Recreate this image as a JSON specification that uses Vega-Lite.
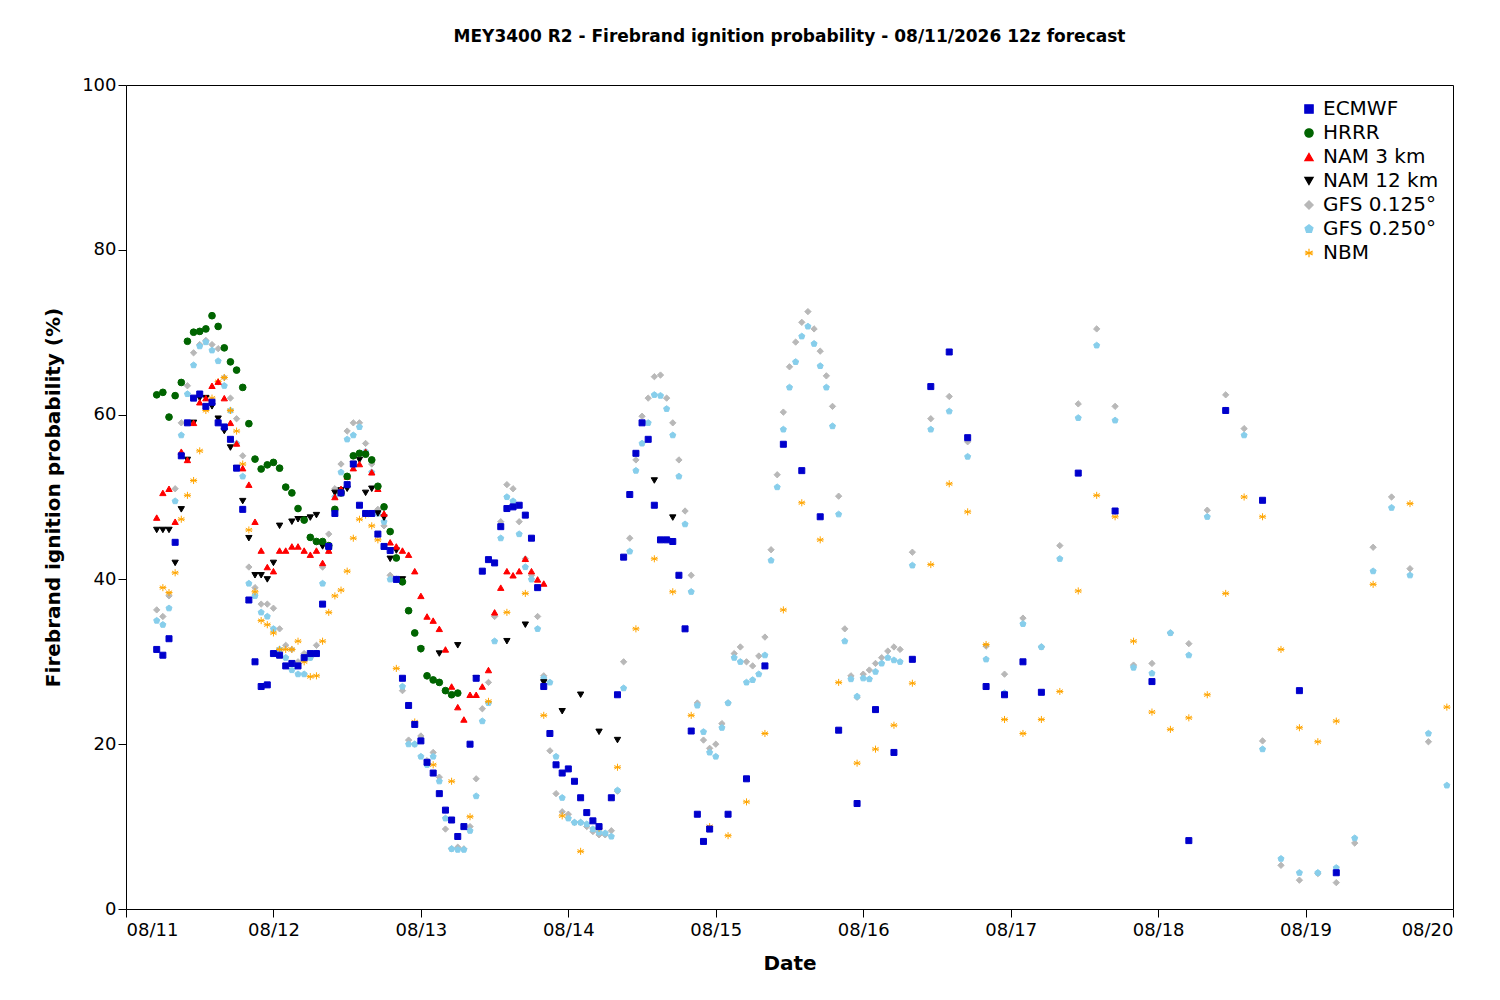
{
"$schema":"https://vega.github.io/schema/vega-lite/v6.json",
"autosize":{"type":"none"},
"width":1327,"height":824,
"padding":{"left":126,"top":85,"right":47,"bottom":91},
"background":"white",
"title":{"text":"MEY3400 R2 - Firebrand ignition probability - 08/11/2026 12z forecast","fontSize":17,"fontWeight":"bold","font":"DejaVu Sans","offset":30},
"datasets":{
"E":[[5,31.5],[6,30.8],[7,32.8],[8,44.5],[9,55],[10,59],[11,62],[12,62.5],[13,61],[14,61.5],[15,59],[16,58.5],[17,57],[18,53.5],[19,48.5],[20,37.5],[21,30],[22,27],[23,27.2],[24,31],[25,30.8],[26,29.5],[27,29.8],[28,29.5],[29,30.5],[30,31],[31,31],[32,37],[33,44],[34,48],[35,50.5],[36,51.5],[37,54],[38,49],[39,48],[40,48],[41,45.5],[42,44],[43,43.5],[44,40],[45,28],[46,24.7],[47,22.4],[48,20.4],[49,17.8],[50,16.5],[51,14],[52,12],[53,10.8],[54,8.8],[55,10],[56,20],[57,28],[58,41],[59,42.4],[60,42],[61,46.4],[62,48.6],[63,48.8],[64,49],[65,47.8],[66,45],[67,39],[68,27],[69,21.3],[70,17.5],[71,16.5],[72,17],[73,15.5],[74,13.5],[75,11.7],[76,10.7],[77,10],[79,13.5],[80,26],[81,42.7],[82,50.3],[83,55.3],[84,59],[85,57],[86,49],[87,44.8],[88,44.8],[89,44.6],[90,40.5],[91,34],[92,21.6],[93,11.5],[94,8.2],[95,9.7],[98,11.5],[101,15.8],[104,29.5],[107,56.4],[110,53.2],[113,47.6],[116,21.7],[119,12.8],[122,24.2],[125,19],[128,30.3],[131,63.4],[134,67.6],[137,57.2],[140,27],[143,26],[146,30],[149,26.3],[155,52.9],[161,48.3],[167,27.6],[173,8.3],[179,60.5],[185,49.6],[191,26.5],[197,4.4]],
"H":[[5,62.4],[6,62.7],[7,59.7],[8,62.3],[9,63.9],[10,68.9],[11,70],[12,70.1],[13,70.4],[14,72],[15,70.7],[16,68.1],[17,66.4],[18,65.4],[19,63.3],[20,58.9],[21,54.6],[22,53.4],[23,53.9],[24,54.2],[25,53.5],[26,51.2],[27,50.5],[28,48.6],[29,47.2],[30,45.1],[31,44.6],[32,44.6],[33,44.1],[34,48.5],[35,50.5],[36,52.5],[37,55],[38,55.3],[39,55.2],[40,54.5],[41,51.3],[42,48.8],[43,45.8],[44,42.6],[45,39.7],[46,36.2],[47,33.5],[48,31.6],[49,28.3],[50,27.8],[51,27.5],[52,26.5],[53,26],[54,26.2]],
"N3":[[5,47.5],[6,50.5],[7,51],[8,47],[9,55.5],[10,54.5],[11,59],[12,61.5],[13,62],[14,63.5],[15,64],[16,62],[17,59],[18,56.5],[19,53.5],[20,51.5],[21,47],[22,43.5],[23,41.5],[24,41],[25,43.5],[26,43.5],[27,44],[28,44],[29,43.5],[30,43],[31,43.5],[32,42],[33,43.5],[34,50],[35,51],[36,52.5],[37,53.5],[38,54],[39,55.5],[40,53],[41,51],[42,48],[43,44.5],[44,44],[45,43.5],[46,43],[47,41],[48,38],[49,35.5],[50,35],[51,34],[52,31.5],[53,27],[54,24.5],[55,23],[56,26],[57,26],[58,27],[59,29],[60,36],[61,39],[62,41],[63,40.5],[64,41],[65,42.5],[66,41],[67,40],[68,39.5]],
"N12":[[5,46],[6,46],[7,46],[8,42],[9,48.5],[10,54.5],[11,59],[12,62],[13,62],[14,61],[15,59.5],[16,58],[17,56],[18,53.5],[19,49.5],[20,45],[21,40.5],[22,40.5],[23,40],[24,42],[25,46.5],[27,47],[28,47.3],[29,47.3],[30,47.5],[31,47.8],[32,44],[33,43.5],[34,50.5],[35,50.8],[36,51],[37,54],[38,54.5],[39,50.5],[40,51],[41,48],[42,47.5],[43,42.5],[44,43.5],[45,40],[48,31.5],[51,31],[54,32],[57,28],[62,32.5],[65,34.5],[68,27.5],[71,24],[74,26],[77,21.5],[80,20.5],[86,52],[89,47.5]],
"G1":[[5,36.3],[6,35.5],[7,38],[8,51],[9,59],[10,63.5],[11,67.5],[12,68.5],[13,69],[14,68.5],[15,68],[16,64.5],[17,62],[18,59.5],[19,55],[20,41.5],[21,39],[22,37],[23,37],[24,36.5],[25,34],[26,32],[27,31.5],[28,30],[29,31],[30,30.5],[31,32],[32,41.5],[33,45.5],[34,51],[35,54],[36,58],[37,59],[38,59],[39,56.5],[40,54],[41,48.5],[42,46.5],[43,40.5],[44,40],[45,26.5],[46,20.5],[47,20],[48,21],[49,18],[50,19],[51,16],[52,9.7],[53,7.3],[54,7.5],[55,7.3],[56,10],[57,15.8],[58,24.3],[59,27.5],[60,35.5],[61,47],[62,51.5],[63,51],[64,47],[65,42.5],[66,40.5],[67,35.5],[68,28.3],[69,19.2],[70,14],[71,11.8],[72,11.5],[73,10.5],[74,10.5],[75,10],[76,9.4],[77,9],[78,9],[79,9.5],[80,14.3],[81,30],[82,45],[83,54.5],[84,59.8],[85,62],[86,64.6],[87,64.8],[88,62],[89,59],[90,54.5],[91,48.3],[92,40.5],[93,25],[94,20.5],[95,19.5],[96,20],[97,22.5],[98,25],[99,31],[100,31.8],[101,30],[102,29.5],[103,30.7],[104,33],[105,43.6],[106,52.7],[107,60.3],[108,65.8],[109,68.8],[110,71.2],[111,72.5],[112,70.4],[113,67.7],[114,64.7],[115,61],[116,50.1],[117,34],[118,28.3],[119,25.7],[120,28.5],[121,29],[122,29.8],[123,30.5],[124,31.3],[125,31.8],[126,31.5],[128,43.3],[131,59.5],[134,62.2],[137,56.7],[140,31.9],[143,28.5],[146,35.3],[149,31.8],[152,44.1],[155,61.3],[158,70.4],[161,61],[164,29.6],[167,29.8],[170,33.5],[173,32.2],[176,48.4],[179,62.4],[182,58.3],[185,20.4],[188,5.3],[191,3.5],[194,4.3],[197,3.2],[200,8],[203,43.9],[206,50],[209,41.3],[212,20.3]],
"G2":[[5,35],[6,34.5],[7,36.5],[8,49.5],[9,57.5],[10,62.5],[11,66],[12,68.3],[13,68.8],[14,67.8],[15,66.5],[16,63.5],[17,60.5],[18,56.5],[19,52.5],[20,39.5],[21,38],[22,36],[23,35.5],[24,34],[25,31.5],[26,30.5],[27,29],[28,28.5],[29,28.5],[30,30.5],[31,31],[32,39.5],[33,44],[34,50],[35,53],[36,57],[37,57.5],[38,58.5],[39,55.5],[40,53],[41,48],[42,47],[43,40],[44,40],[45,27],[46,20],[47,20],[48,18.5],[49,17.5],[50,18.5],[51,15.5],[52,11],[53,7.3],[54,7.2],[55,7.2],[56,9.5],[57,13.7],[58,22.8],[59,25],[60,32.5],[61,45],[62,50],[63,49.5],[64,45.5],[65,41.5],[66,40],[67,34],[68,28],[69,27.5],[70,18.5],[71,13.5],[72,11],[73,10.5],[74,10.5],[75,10.3],[76,9.7],[77,9.3],[78,9.2],[79,8.8],[80,14.4],[81,26.8],[82,43.4],[83,53.2],[84,56.5],[85,59],[86,62.4],[87,62.3],[88,60.7],[89,57.5],[90,52.5],[91,46.7],[92,38.5],[93,24.7],[94,21.5],[95,19],[96,18.5],[97,22],[98,25],[99,30.5],[100,30],[101,27.5],[102,27.8],[103,28.5],[104,30.8],[105,42.3],[106,51.2],[107,58.2],[108,63.3],[109,66.4],[110,69.5],[111,70.7],[112,68.6],[113,65.9],[114,63.3],[115,58.6],[116,47.9],[117,32.5],[118,27.9],[119,25.8],[120,28],[121,27.9],[122,28.8],[123,29.8],[124,30.5],[125,30.2],[126,30],[128,41.7],[131,58.2],[134,60.4],[137,54.9],[140,30.3],[143,26.2],[146,34.6],[149,31.8],[152,42.5],[155,59.6],[158,68.4],[161,59.3],[164,29.3],[167,28.6],[170,33.5],[173,30.8],[176,47.6],[179,60.5],[182,57.5],[185,19.4],[188,6.1],[191,4.4],[194,4.4],[197,5],[200,8.6],[203,41],[206,48.7],[209,40.5],[212,21.3],[215,15]],
"NB":[[6,39],[7,38.4],[8,40.8],[9,47.3],[10,50.2],[11,52],[12,55.6],[13,60.5],[14,62],[15,64],[16,64.5],[17,60.5],[18,58],[19,54],[20,46],[21,38.5],[22,35],[23,34.5],[24,33.5],[25,31.5],[26,31.5],[27,31.5],[28,32.5],[29,30],[30,28.2],[31,28.3],[32,32.5],[33,36],[34,38],[35,38.7],[36,41],[37,45],[38,47.3],[39,47.8],[40,46.5],[41,44.8],[44,29.2],[47,22.7],[50,17.5],[53,15.5],[56,11.2],[59,25.2],[62,36],[65,38.3],[68,23.5],[71,11.3],[74,7],[77,9.8],[80,17.2],[83,34],[86,42.5],[89,38.5],[92,23.5],[95,10],[98,8.9],[101,13],[104,21.3],[107,36.3],[110,49.3],[113,44.8],[116,27.5],[119,17.7],[122,19.4],[125,22.3],[128,27.4],[131,41.8],[134,51.6],[137,48.2],[140,32.1],[143,23],[146,21.3],[149,23],[152,26.4],[155,38.6],[158,50.2],[161,47.6],[164,32.5],[167,23.9],[170,21.8],[173,23.2],[176,26],[179,38.3],[182,50],[185,47.6],[188,31.5],[191,22],[194,20.3],[197,22.8],[203,39.4],[209,49.2],[215,24.5]]
},
"encoding":{
 "x":{"field":"0","type":"quantitative","title":"Date","scale":{"domain":[0,216],"nice":false,"zero":false},
  "axis":{"values":[0,24,48,72,96,120,144,168,192,216],"labelExpr":"'08/' + (11 + datum.value/24)","grid":false,"tickSize":8,"labelFontSize":18,"titleFontSize":20,"titleFontWeight":"bold","titlePadding":14,"labelPadding":4,"domain":false}},
 "y":{"field":"1","type":"quantitative","title":"Firebrand ignition probability (%)","scale":{"domain":[0,100],"nice":false},
  "axis":{"values":[0,20,40,60,80,100],"grid":false,"tickSize":8,"labelFontSize":18,"titleFontSize":20,"titleFontWeight":"bold","titlePadding":18,"domain":false}},
 "color":{"field":"s","type":"nominal","title":null,
  "scale":{"domain":["ECMWF","HRRR","NAM 3 km","NAM 12 km","GFS 0.125°","GFS 0.250°","NBM"],"range":["#0000cc","#006400","#ff0000","#000000","#b8b8b8","#87ceeb","#ffa500"]},
  "legend":{"orient":"top-right","offset":14,"labelFontSize":20,"symbolSize":70,"rowPadding":4,"labelLimit":300,"symbolStrokeWidth":1.2}},
 "stroke":{"field":"s","type":"nominal","legend":null,
  "scale":{"domain":["ECMWF","HRRR","NAM 3 km","NAM 12 km","GFS 0.125°","GFS 0.250°","NBM"],"range":["#0000cc","#006400","#ff0000","#000000","#b8b8b8","#87ceeb","#ffa500"]}},
 "shape":{"field":"s","type":"nominal","title":null,
  "scale":{"domain":["ECMWF","HRRR","NAM 3 km","NAM 12 km","GFS 0.125°","GFS 0.250°","NBM"],"range":["square","circle","triangle-up","triangle-down","diamond","M0,-1L0.95,-0.31L0.59,0.81L-0.59,0.81L-0.95,-0.31Z","M0,-1L0,1M-0.87,-0.5L0.87,0.5M-0.87,0.5L0.87,-0.5M-1,0L1,0"]}}
},
"layer":[
 {"data":{"name":"G1"},"transform":[{"calculate":"'GFS 0.125°'","as":"s"}],"mark":{"type":"point","filled":true,"size":40,"strokeWidth":1,"opacity":1}},
 {"data":{"name":"G2"},"transform":[{"calculate":"'GFS 0.250°'","as":"s"}],"mark":{"type":"point","filled":true,"size":40,"strokeWidth":1,"opacity":1}},
 {"data":{"name":"NB"},"transform":[{"calculate":"'NBM'","as":"s"}],"mark":{"type":"point","filled":true,"size":50,"strokeWidth":1,"opacity":1}},
 {"data":{"name":"N12"},"transform":[{"calculate":"'NAM 12 km'","as":"s"}],"mark":{"type":"point","filled":true,"size":40,"strokeWidth":1,"opacity":1}},
 {"data":{"name":"N3"},"transform":[{"calculate":"'NAM 3 km'","as":"s"}],"mark":{"type":"point","filled":true,"size":40,"strokeWidth":1,"opacity":1}},
 {"data":{"name":"H"},"transform":[{"calculate":"'HRRR'","as":"s"}],"mark":{"type":"point","filled":true,"size":45,"strokeWidth":1,"opacity":1}},
 {"data":{"name":"E"},"transform":[{"calculate":"'ECMWF'","as":"s"}],"mark":{"type":"point","filled":true,"size":36,"strokeWidth":1,"opacity":1}}
],
"config":{"font":"DejaVu Sans","view":{"stroke":"black","strokeWidth":1},"axis":{"labelColor":"black","titleColor":"black","tickColor":"black","labelFont":"DejaVu Sans","titleFont":"DejaVu Sans"},"legend":{"labelFont":"DejaVu Sans","labelColor":"black"}}
}
